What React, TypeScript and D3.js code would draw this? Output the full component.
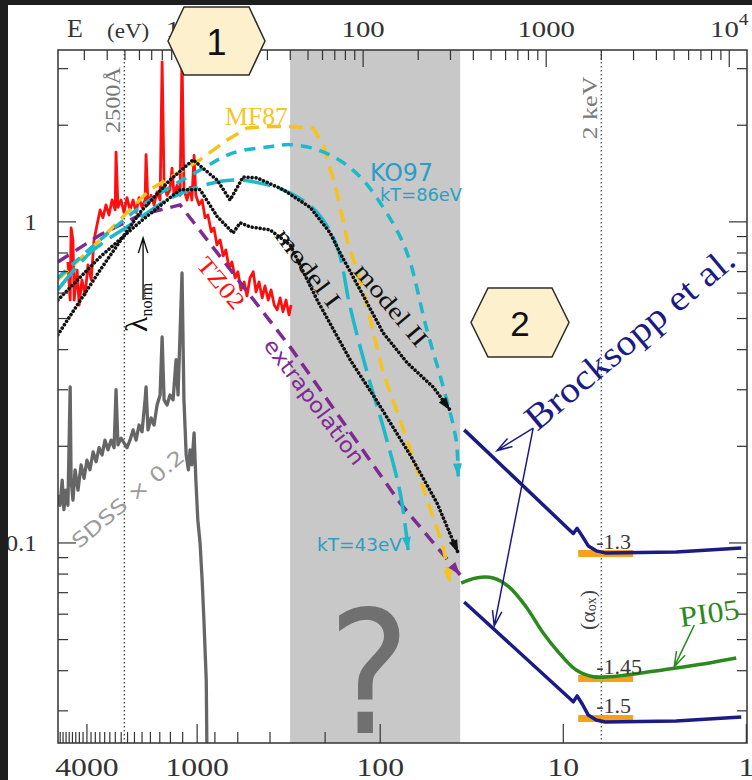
import React from 'react';
import * as d3 from 'd3';

type P = [number, number];

// ---------------- axes ----------------
const E_DOMAIN: [number, number] = [2.154, 12500]; // photon energy, eV
const F_DOMAIN: [number, number] = [0.02382, 3.43]; // relative nu F_nu
const HC = 12398.4; // eV * Angstrom
const TOP_LABELS = [10, 100, 1000];
const TOP_POW_LABEL = 10000;
const BOTTOM_LABELS = [4000, 1000, 100, 10, 1]; // Angstrom
const BOTTOM_MINOR = [5600, 5400, 5200, 5000, 4800, 4600, 4400, 4200, 3800, 3600, 3400, 3200, 3000, 2800, 2600, 2400, 2200, 2000, 1800, 1600, 1400, 1200, 800, 600, 400, 200];
const Y_LABELS = [1, 0.1];
const Y_LABEL_TEXT = ['1', '0.1'];
const GAP_BAND: [number, number] = [39.9, 339]; // eV, unobservable band
const LAMBDA_2500 = 2500; // Angstrom
const E_2KEV = 2000; // eV

// ---------------- data: [E (eV), F] ----------------
const TZ02: P[] = [
  [2.44, 0.750], [2.51, 0.571], [2.54, 0.958], [2.60, 0.879], [2.64, 0.571], [2.74, 0.708], [2.81, 0.551], [2.91, 0.660],
  [3.03, 0.592], [3.14, 0.734], [3.27, 0.660], [3.39, 0.879], [3.52, 0.979], [3.66, 1.09], [3.79, 1.03], [3.94, 1.13],
  [4.09, 1.05], [4.25, 1.17], [4.42, 1.09], [4.47, 1.65], [4.58, 1.11], [4.76, 1.17], [4.94, 1.07], [5.13, 1.19],
  [5.33, 1.09], [5.54, 1.17], [5.75, 1.07], [5.97, 1.19], [6.20, 1.11], [6.44, 1.17], [6.52, 1.62], [6.68, 1.13],
  [6.95, 1.21], [7.21, 1.13], [7.49, 1.24], [7.78, 1.17], [7.98, 3.15], [8.18, 1.30], [8.49, 1.21], [8.81, 1.26],
  [9.04, 1.47], [9.27, 1.21], [9.63, 1.30], [10.0, 1.21], [10.25, 3.31], [10.5, 1.26], [10.92, 1.17], [11.34, 1.28],
  [11.6, 1.17], [11.93, 1.61], [12.2, 1.21], [12.7, 1.13], [13.2, 1.17], [13.7, 1.03], [14.2, 1.05], [14.8, 0.931],
  [15.3, 0.958], [15.9, 0.848], [16.55, 0.879], [17.2, 0.784], [17.8, 0.818], [18.5, 0.719], [19.2, 0.750], [20.0, 0.669],
  [20.7, 0.699], [21.5, 0.614], [22.4, 0.650], [23.2, 0.588], [24.1, 0.669], [25.1, 0.699], [26.0, 0.605], [27.0, 0.650],
  [28.1, 0.580], [29.1, 0.632], [30.3, 0.571], [31.4, 0.614], [32.7, 0.551], [33.9, 0.532], [35.2, 0.580], [36.5, 0.525],
  [37.9, 0.571], [39.4, 0.513], [40.4, 0.551],
];

const SDSS: P[] = [
  [2.15, 0.141], [2.21, 0.131], [2.27, 0.157], [2.32, 0.127], [2.38, 0.146], [2.44, 0.131], [2.51, 0.306], [2.54, 0.157],
  [2.60, 0.136], [2.67, 0.169], [2.77, 0.146], [2.88, 0.175], [2.99, 0.159], [3.10, 0.181], [3.22, 0.169], [3.35, 0.192],
  [3.48, 0.179], [3.61, 0.198], [3.75, 0.188], [3.89, 0.209], [4.04, 0.195], [4.20, 0.209], [4.36, 0.198], [4.47, 0.300],
  [4.58, 0.202], [4.76, 0.212], [4.94, 0.205], [5.13, 0.198], [5.33, 0.209], [5.54, 0.225], [5.75, 0.209], [5.97, 0.233],
  [6.20, 0.222], [6.44, 0.279], [6.52, 0.306], [6.68, 0.225], [6.95, 0.245], [7.21, 0.233], [7.49, 0.269], [7.78, 0.289],
  [7.98, 0.438], [8.18, 0.279], [8.49, 0.269], [8.81, 0.289], [9.16, 0.279], [9.51, 0.372], [9.75, 0.289], [10.25, 0.693],
  [10.5, 0.279], [10.8, 0.188], [11.1, 0.169], [11.34, 0.195], [11.6, 0.175], [11.93, 0.220], [12.2, 0.157], [12.5, 0.118],
  [12.86, 0.100], [13.2, 0.0767], [13.5, 0.0575], [13.9, 0.0374], [14.05, 0.020],
];

const EXTRAP: P[] = [[2.15, 0.750], [3.66, 0.911], [6.04, 1.05], [10.0, 1.13], [39.9, 0.408], [159.4, 0.133], [339, 0.0795]];

const MF87: P[] = [
  [2.15, 0.660], [3.66, 0.879], [6.85, 1.26], [12.86, 1.56], [18.07, 1.80], [23.24, 1.96], [31.03, 1.98], [39.93, 1.98],
  [53.31, 1.96], [60.45, 1.74], [72.09, 1.23], [81.73, 0.879], [100, 0.614], [128.6, 0.339], [174, 0.209], [223.9, 0.136],
  [273.8, 0.0972], [298.8, 0.075],
];

const KO97_86: P[] = [
  [2.15, 0.669], [3.66, 0.879], [6.85, 1.17], [12.86, 1.45], [19.49, 1.64], [29.88, 1.71], [39.93, 1.74], [56.08, 1.68],
  [77.71, 1.53], [100, 1.35], [128.6, 1.11], [159.4, 0.898], [180.6, 0.750], [220.8, 0.471], [273.8, 0.306], [322.2, 0.209],
  [330.4, 0.161],
];

const KO97_43: P[] = [
  [2.15, 0.614], [3.22, 0.800], [5.54, 0.993], [8.49, 1.17], [12.86, 1.29], [19.49, 1.35], [27.36, 1.32], [39.93, 1.23],
  [56.08, 1.07], [72.09, 0.836], [84.87, 0.543], [105.2, 0.339], [128.6, 0.230], [159.4, 0.143], [176.2, 0.0951],
];

const MODEL_II: P[] = [
  [2.15, 0.445], [3.66, 0.708], [6.04, 1.07], [8.81, 1.35], [11.78, 1.56], [15.93, 1.35], [18.76, 1.17], [22.10, 1.38],
  [26.36, 1.37], [36.54, 1.26], [51.33, 1.11], [66.03, 0.924], [74.85, 0.800], [96.32, 0.614], [128.6, 0.451], [174.0, 0.364],
  [241.3, 0.306], [298.8, 0.259],
];

const MODEL_I: P[] = [
  [2.15, 0.571], [3.66, 0.778], [6.04, 1.0], [10.0, 1.26], [12.86, 1.26], [15.93, 1.04], [19.49, 0.924], [21.29, 0.993],
  [24.14, 0.965], [31.03, 0.944], [39.93, 0.848], [56.08, 0.571], [84.87, 0.372], [117.8, 0.279], [180.6, 0.188],
  [253.5, 0.133], [330.4, 0.0931],
];

const BROCK_E = [356.5, 1336, 1406, 1476, 1574, 1698, 1876, 2099, 5130, 11630];
const BROCK_HIGH = [0.225, 0.110, 0.107, 0.111, 0.105, 0.0979, 0.0945, 0.0931, 0.0937, 0.0965];
const BROCK_LOW = [0.0655, 0.0329, 0.0320, 0.0334, 0.0315, 0.0291, 0.0281, 0.0277, 0.0279, 0.0287];

const PI05_E = [343.3, 414.4, 512.7, 628.1, 777.6, 963.3, 1178, 1459, 1806, 2207, 3388, 5130, 7776, 10920];
const PI05_F = [0.0750, 0.0778, 0.0778, 0.0729, 0.0632, 0.0524, 0.0454, 0.0402, 0.0383, 0.0383, 0.0394, 0.0408, 0.0423, 0.0438];

const ALPHA_E: [number, number] = [1496, 2985];
const ALPHA_LEVELS = [0.0927, 0.0378, 0.0284];
const ALPHA_LABELS = ['-1.3', '-1.45', '-1.5'];

// annotation anchors (data coords)
const BROCK_ANCHOR: P = [849, 0.228];
const BROCK_TIPS: P[] = [[539, 0.194], [520, 0.0551]];
const PI05_ARROW: P[] = [[6442, 0.0555], [5000, 0.0411]];
const LNORM_ARROW: P[] = [[6.28, 0.571], [6.28, 0.892]];

const SERIF = '"Liberation Serif", "Times New Roman", serif';
const SANS = '"DejaVu Sans", sans-serif';
const ARIAL = '"Liberation Sans", Arial, sans-serif';

const T = ({ x, y, rot = 0, sx = 1, size, fill = '#222', family = SERIF, anchor = 'middle', baseline, len, children }: any) => (
  <text
    transform={`translate(${x},${y}) rotate(${rot}) scale(${sx},1)`}
    fontSize={size}
    fill={fill}
    fontFamily={family}
    textAnchor={anchor}
    dominantBaseline={baseline}
    textLength={len}
    lengthAdjust={len ? 'spacingAndGlyphs' : undefined}
  >
    {children}
  </text>
);

function openArrow(x0: number, y0: number, x1: number, y1: number, len = 14, ang = 0.36) {
  const a = Math.atan2(y1 - y0, x1 - x0);
  const p1 = [x1 - len * Math.cos(a - ang), y1 - len * Math.sin(a - ang)];
  const p2 = [x1 - len * Math.cos(a + ang), y1 - len * Math.sin(a + ang)];
  return `M${x0},${y0}L${x1},${y1}M${p1[0]},${p1[1]}L${x1},${y1}L${p2[0]},${p2[1]}`;
}

export default function App() {
  const L = 58, R = 747, TOP = 50, B = 743;
  const x = d3.scaleLog().domain(E_DOMAIN).range([L, R]);
  const y = d3.scaleLog().domain(F_DOMAIN).range([B, TOP]);

  const lin = d3.line<P>().x(d => x(d[0])).y(d => y(d[1]));
  const smooth = d3.line<P>().x(d => x(d[0])).y(d => y(d[1])).curve(d3.curveCatmullRom.alpha(0.5));

  const head = (pts: P[], len = 13, hw = 4.5) => {
    const n = pts.length;
    const x1 = x(pts[n - 1][0]), y1 = y(pts[n - 1][1]);
    const x0 = x(pts[n - 2][0]), y0 = y(pts[n - 2][1]);
    const dx = x1 - x0, dy = y1 - y0, l = Math.hypot(dx, dy);
    const ux = dx / l, uy = dy / l;
    const bx = x1 - ux * len, by = y1 - uy * len;
    return `M${x1},${y1}L${bx - uy * hw},${by + ux * hw}L${bx + uy * hw},${by - ux * hw}Z`;
  };

  // ticks
  const eTicks: { v: number; major: boolean }[] = [];
  for (const k of [0, 1, 2, 3, 4]) for (let m = 1; m <= 9; m++) {
    const v = m * 10 ** k;
    if (v >= E_DOMAIN[0] && v <= E_DOMAIN[1]) eTicks.push({ v, major: m === 1 });
  }
  const fTicks: { v: number; major: boolean }[] = [];
  for (const k of [-2, -1, 0]) for (let m = 1; m <= 9; m++) {
    const v = m * 10 ** k;
    if (v >= F_DOMAIN[0] && v <= F_DOMAIN[1]) fTicks.push({ v, major: m === 1 });
  }
  const lamTicks = [
    ...BOTTOM_LABELS.map(v => ({ v, major: true })),
    ...BOTTOM_MINOR.map(v => ({ v, major: false })),
  ];

  const tickColor = '#333';
  const brockHigh: P[] = BROCK_E.map((e, i) => [e, BROCK_HIGH[i]]);
  const brockLow: P[] = BROCK_E.map((e, i) => [e, BROCK_LOW[i]]);
  const pi05: P[] = PI05_E.map((e, i) => [e, PI05_F[i]]);

  const cyan = '#1db8c9';
  const teal = '#2a9ec4';
  const yellow = '#f5c31c';
  const purple = '#7e2a92';
  const navy = '#1b1b84';
  const green = '#2b8a1c';

  const hex = (l: number, r: number, t: number, b: number, ins: number) => {
    const cy = (t + b) / 2;
    return `${l},${cy} ${l + ins},${t} ${r - ins},${t} ${r},${cy} ${r - ins},${b} ${l + ins},${b}`;
  };

  const ba = [x(BROCK_ANCHOR[0]), y(BROCK_ANCHOR[1])];

  return (
    <svg width={752} height={780} style={{ position: 'absolute', left: 0, top: 0, background: '#fff' }}>
      <defs>
        <clipPath id="plot">
          <rect x={L} y={TOP} width={R - L} height={B - TOP} />
        </clipPath>
      </defs>
      <rect x={0} y={0} width={752} height={780} fill="#fff" />
      {/* unobservable band */}
      <rect x={x(GAP_BAND[0])} y={TOP} width={x(GAP_BAND[1]) - x(GAP_BAND[0])} height={B - TOP} fill="#c8c8c8" />
      {/* reference lines */}
      <line x1={x(HC / LAMBDA_2500)} x2={x(HC / LAMBDA_2500)} y1={TOP} y2={B} stroke="#444" strokeWidth={1.3} strokeDasharray="1.5 2.5" />
      <line x1={x(E_2KEV)} x2={x(E_2KEV)} y1={TOP} y2={B} stroke="#555" strokeWidth={1.3} strokeDasharray="1.5 2.5" />

      <g clipPath="url(#plot)" fill="none" strokeLinejoin="round">
        <path d={lin(SDSS)!} stroke="#666" strokeWidth={3.3} />
        <path d={lin(TZ02)!} stroke="#ff1010" strokeWidth={2.8} />
        <path d={lin(EXTRAP)!} stroke={purple} strokeWidth={3.5} strokeDasharray="13 8" />
        <path d={lin(MF87)!} stroke={yellow} strokeWidth={3.5} strokeDasharray="14 8" />
        <path d={smooth(KO97_86)!} stroke={cyan} strokeWidth={3.5} strokeDasharray="11 8" />
        <path d={smooth(KO97_43)!} stroke={cyan} strokeWidth={3.5} strokeDasharray="28 9" />
        <path d={lin(MODEL_I)!} stroke="#111" strokeWidth={3.6} strokeDasharray="0.01 4" strokeLinecap="round" />
        <path d={lin(MODEL_II)!} stroke="#111" strokeWidth={3.6} strokeDasharray="0.01 4" strokeLinecap="round" />
        {ALPHA_LEVELS.map((lv, i) => (
          <line key={i} x1={x(ALPHA_E[0])} x2={x(ALPHA_E[1])} y1={y(lv)} y2={y(lv)} stroke="#f7a01a" strokeWidth={7} />
        ))}
        <path d={lin(brockHigh)!} stroke={navy} strokeWidth={3.5} />
        <path d={lin(brockLow)!} stroke={navy} strokeWidth={3.5} />
        <path d={smooth(pi05)!} stroke={green} strokeWidth={3.5} />
      </g>
      {/* arrow heads */}
      <path d={head(EXTRAP)} fill={purple} />
      <path d={head(MF87)} fill={yellow} />
      <path d={head(KO97_86)} fill={cyan} />
      <path d={head(KO97_43)} fill={cyan} />
      <path d={head(MODEL_I)} fill="#111" />
      <path d={head(MODEL_II)} fill="#111" />

      {/* frame & ticks */}
      <rect x={L} y={TOP} width={R - L} height={B - TOP} fill="none" stroke="#333" strokeWidth={1.5} />
      {eTicks.map((t, i) => (
        <line key={'e' + i} x1={x(t.v)} x2={x(t.v)} y1={TOP} y2={TOP + (t.major ? 17 : 10)} stroke={tickColor} strokeWidth={1.2} />
      ))}
      {lamTicks.map((t, i) => (
        <line key={'l' + i} x1={x(HC / t.v)} x2={x(HC / t.v)} y1={B} y2={B - (t.major ? 19 : 11)} stroke={tickColor} strokeWidth={1.2} />
      ))}
      {fTicks.map((t, i) => (
        <g key={'f' + i}>
          <line x1={L} x2={L + (t.major ? 18 : 10)} y1={y(t.v)} y2={y(t.v)} stroke={tickColor} strokeWidth={1.2} />
          <line x1={R} x2={R - (t.major ? 18 : 10)} y1={y(t.v)} y2={y(t.v)} stroke={tickColor} strokeWidth={1.2} />
        </g>
      ))}

      {/* axis labels */}
      <T x={67} y={37} size={26} anchor="start" fill="#333">E</T>
      <T x={107} y={38} size={21} anchor="start" sx={1.1} fill="#333">(eV)</T>
      {TOP_LABELS.map(v => (
        <T key={v} x={x(v)} y={37} size={24} sx={1.2} fill="#333">{String(v)}</T>
      ))}
      <text transform={`translate(${x(TOP_POW_LABEL)},37) scale(1.2,1)`} fontFamily={SERIF} fontSize={24} fill="#333" textAnchor="middle">
        10<tspan fontSize={16} dy={-12}>4</tspan>
      </text>
      {BOTTOM_LABELS.map(v => (
        <T key={v} x={x(HC / v)} y={776} size={26} sx={1.22} fill="#333">{String(v)}</T>
      ))}
      {Y_LABELS.map((v, i) => (
        <T key={v} x={37} y={y(v) + 8} size={23} sx={1.1} anchor="end" fill="#333">{Y_LABEL_TEXT[i]}</T>
      ))}

      {/* annotations */}
      <T x={113} y={100} rot={-90} size={21} fill="#7a7a7a" baseline="central" len={66}>2500Å</T>
      <T x={590} y={108} rot={-90} size={21} fill="#7a7a7a" baseline="central" len={63}>2 keV</T>
      <T x={225} y={125} size={26} anchor="start" fill="#f3c52a" len={63}>MF87</T>
      <T x={370} y={181} size={24} anchor="start" family={SANS} fill={teal} len={63}>KO97</T>
      <T x={380} y={201} size={17} anchor="start" family={SANS} fill={teal} len={82}>kT=86eV</T>
      <T x={317} y={551} size={17} anchor="start" family={SANS} fill={teal} len={85}>kT=43eV</T>
      <T x={221} y={283} rot={50} size={24} fill="#ff1010" baseline="central" len={60}>TZ02</T>
      <T x={308} y={268} rot={53} size={24} fill="#111" baseline="central" len={92}>model I</T>
      <T x={391} y={305} rot={50} size={24} fill="#111" baseline="central" len={100}>model II</T>
      <T x={314} y={402} rot={53} size={21} family={SANS} fill={purple} baseline="central" len={152}>extrapolation</T>
      <T x={128} y={499} rot={-40} size={20} family={SANS} fill="#9c9c9c" baseline="central" len={140}>SDSS × 0.2</T>

      {/* lambda_norm */}
      <text transform="translate(147,332) rotate(-90)" fontFamily={SERIF} fill="#111">
        <tspan fontSize={32}>λ</tspan>
        <tspan fontSize={16} dy={5}>norm</tspan>
      </text>
      <path d={openArrow(x(LNORM_ARROW[0][0]), y(LNORM_ARROW[0][1]), x(LNORM_ARROW[1][0]), y(LNORM_ARROW[1][1]), 16, 0.3)} stroke="#111" strokeWidth={1.4} fill="none" />

      {/* question mark */}
      <text transform="translate(369,733) scale(0.9,1)" fontFamily={SANS} fontSize={172} fill="#707070" textAnchor="middle">?</text>

      {/* Brocksopp */}
      <T x={537} y={432} rot={-40} size={36} anchor="start" fill={navy} len={262}>Brocksopp et al.</T>
      {BROCK_TIPS.map((tp, i) => (
        <path key={i} d={openArrow(ba[0], ba[1], x(tp[0]), y(tp[1]), 16, 0.3)} stroke={navy} strokeWidth={1.5} fill="none" />
      ))}

      {/* PI05 */}
      <T x={681} y={627} rot={-8} size={29} anchor="start" fill={green} len={60}>PI05</T>
      <path d={openArrow(x(PI05_ARROW[0][0]), y(PI05_ARROW[0][1]), x(PI05_ARROW[1][0]), y(PI05_ARROW[1][1]), 16, 0.3)} stroke={green} strokeWidth={1.5} fill="none" />

      {/* alpha_ox */}
      {ALPHA_LEVELS.map((lv, i) => (
        <T key={i} x={x(ALPHA_E[0]) + 18} y={y(lv) - 5} size={20} sx={1.1} anchor="start" fill="#3a3a3a">{ALPHA_LABELS[i]}</T>
      ))}
      <text transform="translate(587,610) rotate(-90)" fontFamily={SERIF} fontSize={22} fill="#444" textAnchor="middle" dominantBaseline="central">
        (α<tspan fontSize={14} dy={4}>ox</tspan><tspan dy={-4}>)</tspan>
      </text>

      {/* hexagon markers */}
      <polygon points={hex(168, 265, 7, 75, 16)} fill="#fdf0cd" stroke="#2b2b2b" strokeWidth={1.5} />
      <T x={216.5} y={42} size={36} family={ARIAL} fill="#111" baseline="central">1</T>
      <polygon points={hex(471, 569, 288, 357, 17)} fill="#fdf0cd" stroke="#2b2b2b" strokeWidth={1.5} />
      <T x={520} y={323} size={35} family={ARIAL} fill="#111" baseline="central">2</T>

      {/* dark screen edges */}
      <rect x={0} y={0} width={8} height={780} fill="#1e1e1e" />
      <rect x={0} y={0} width={752} height={5} fill="#1e1e1e" />
    </svg>
  );
}
